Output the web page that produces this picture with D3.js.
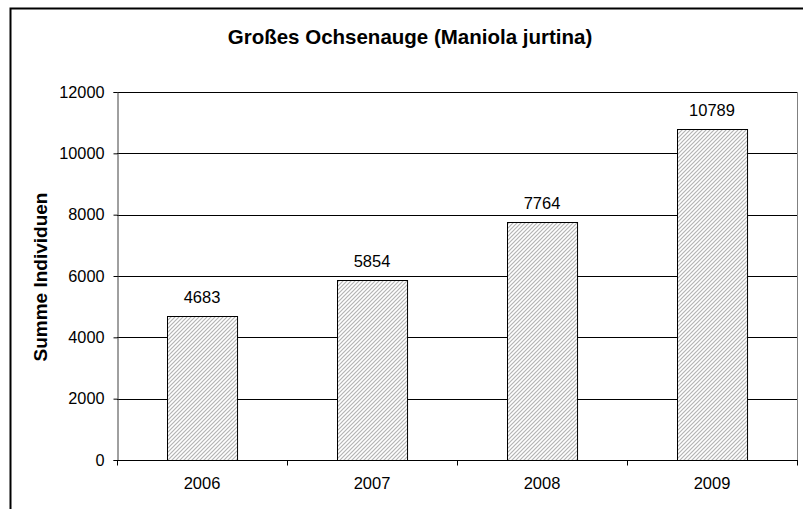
<!DOCTYPE html>
<html><head><meta charset="utf-8">
<script src="https://cdn.jsdelivr.net/npm/d3@7"></script>
<style>body{margin:0;background:#fff}svg{display:block;font-family:"Liberation Sans",Arial,sans-serif}</style>
</head><body>
<script>
const categories = ["2006","2007","2008","2009"];
const values = [4683,5854,7764,10789];
const yTicks = [0,2000,4000,6000,8000,10000,12000];
const title = "Großes Ochsenauge (Maniola jurtina)";
const yLabel = "Summe Individuen";

const W=803,H=509;
const svg=d3.select("body").append("svg").attr("width",W).attr("height",H);
const defs=svg.append("defs");
const pat=defs.append("pattern").attr("id","hatch").attr("patternUnits","userSpaceOnUse")
  .attr("width",4).attr("height",4);
pat.append("rect").attr("width",4).attr("height",4).attr("fill","#fff");
pat.append("path").attr("d","M-1,1 l2,-2 M0,4 l4,-4 M3,5 l2,-2").attr("stroke","#b4b4b4").attr("stroke-width",1.2);

svg.append("rect").attr("x",10.5).attr("y",8.5).attr("width",W+10).attr("height",H+10)
  .attr("fill","none").attr("stroke","#000").attr("stroke-width",2);

const L=117,R=797,T=92,B=460;
const x=d3.scaleBand().domain(categories).range([L,R]).paddingInner(0.588).paddingOuter(0.294);
const xb=d3.scaleBand().domain(categories).range([L,R]);
const y=d3.scaleLinear().domain([0,12000]).range([B,T]);

svg.append("g").selectAll("line").data(yTicks.slice(1)).join("line")
  .attr("x1",L).attr("x2",R).attr("y1",d=>Math.round(y(d))+0.5).attr("y2",d=>Math.round(y(d))+0.5)
  .attr("stroke","#000").attr("stroke-width",1);
svg.append("line").attr("x1",R+0.5).attr("x2",R+0.5).attr("y1",T).attr("y2",B).attr("stroke","#808080");

svg.append("g").selectAll("rect").data(values).join("rect")
  .attr("x",(d,i)=>Math.round(x(categories[i]))+0.5)
  .attr("y",d=>Math.round(y(d))+0.5)
  .attr("width",x.bandwidth())
  .attr("height",d=>B-Math.round(y(d)))
  .attr("fill","url(#hatch)").attr("stroke","#000").attr("stroke-width",1);

svg.append("g").selectAll("text").data(values).join("text")
  .attr("x",(d,i)=>x(categories[i])+x.bandwidth()/2)
  .attr("y",d=>y(d)-13)
  .attr("text-anchor","middle").attr("font-size",16.5).text(d=>d);

const ya=svg.append("g").attr("transform",`translate(${L+0.5},0)`)
  .call(d3.axisLeft(y).tickValues(yTicks).tickSize(4).tickPadding(9).tickFormat(d=>d));
ya.select(".domain").attr("stroke","#404040");
ya.selectAll("text").attr("font-size",16.3).attr("font-family","Liberation Sans, Arial, sans-serif").attr("fill","#000");
ya.selectAll(".tick line").attr("stroke","#000");

const xg=svg.append("g").attr("transform",`translate(0,${B+0.5})`);
xg.append("line").attr("x1",L).attr("x2",R+1).attr("stroke","#000");
const bounds=[...categories.map(c=>xb(c)),R];
xg.selectAll("line.t").data(bounds).join("line").attr("class","t")
  .attr("x1",d=>Math.round(d)+0.5).attr("x2",d=>Math.round(d)+0.5).attr("y1",0).attr("y2",5).attr("stroke","#000");
xg.selectAll("text").data(categories).join("text")
  .attr("x",d=>xb(d)+xb.bandwidth()/2).attr("y",28)
  .attr("text-anchor","middle").attr("font-size",16.5).text(d=>d);

svg.append("text").attr("x",410).attr("y",44).attr("text-anchor","middle")
  .attr("font-size",20.5).attr("font-weight","bold").text(title);
svg.append("text").attr("transform","translate(47,277) rotate(-90)").attr("text-anchor","middle")
  .attr("font-size",19).attr("font-weight","bold").text(yLabel);
</script>
</body></html>
